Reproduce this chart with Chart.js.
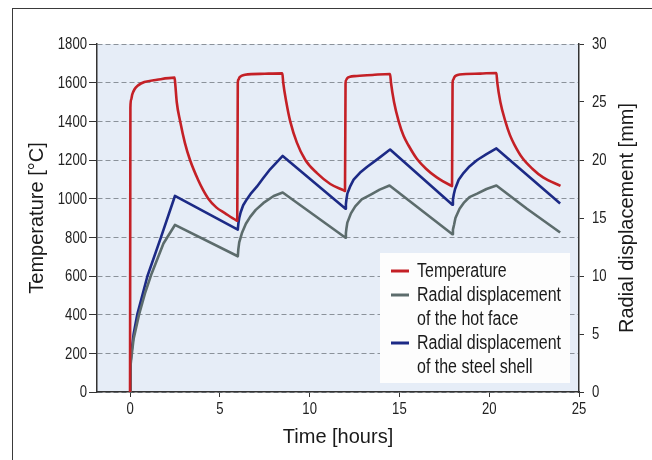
<!DOCTYPE html>
<html><head><meta charset="utf-8">
<script src="https://cdn.jsdelivr.net/npm/chart.js@4"></script>
<style>
html,body{margin:0;padding:0;background:#fff;}
#wrap{position:relative;width:652px;height:460px;overflow:hidden;background:#fff;}
#frame{position:absolute;left:12px;top:8px;width:700px;height:500px;border-left:1.5px solid #3a3a3a;border-top:1.5px solid #3a3a3a;}
canvas{position:absolute;left:0;top:0;}
</style></head><body>
<div id="wrap"><div id="frame"></div><canvas id="c" width="652" height="460"></canvas></div>
<script>
// ---- data (time in hours) ----
const tempTime = [0,0.02,0.06,0.12,0.25,0.45,0.8,1.5,2.48,
  2.52,2.6,2.79,3.05,3.34,3.8,4.05,4.36,4.8,5.3,5.9,5.97,
  6.0,6.03,6.1,6.2,6.4,7.5,8.48,
  8.53,8.7,8.92,9.29,9.76,10.41,11.15,11.9,11.97,
  12.0,12.03,12.1,12.25,12.5,13.5,14.48,
  14.53,14.7,14.96,15.23,15.51,15.98,16.48,17.08,17.86,17.93,
  17.96,17.99,18.06,18.15,18.35,19.5,20.4,
  20.45,20.62,20.9,21.15,21.4,21.85,22.4,23.0,23.97];
const tempValues = [0,1470,1512,1538,1566,1586,1603,1615,1626,
  1590,1500,1400,1290,1200,1095,1048,1000,955,924,889,886,
  1598,1615,1628,1635,1641,1646,1648,
  1600,1500,1400,1290,1200,1132,1076,1043,1040,
  1598,1613,1624,1630,1634,1640,1645,
  1600,1500,1400,1325,1275,1205,1155,1110,1068,1065,
  1598,1615,1628,1636,1642,1647,1650,
  1600,1500,1400,1330,1280,1210,1155,1110,1066];

const hotFaceTime = [0,0.02,0.05,0.1,0.2,0.5,0.85,1.2,1.86,2.5,
  6.0,6.03,6.08,6.23,6.45,6.69,7.0,7.43,8.0,8.5,
  12.0,12.02,12.05,12.1,12.3,12.54,12.9,13.38,13.9,14.45,
  17.95,17.98,18.04,18.12,18.35,18.58,18.9,19.33,19.85,20.4,22.1,23.95];
const hotFaceValues = [0,1.4,2.4,3.3,4.6,6.67,8.6,10.2,12.8,14.4,
  11.7,12.3,12.9,13.7,14.5,15.1,15.7,16.3,16.9,17.2,
  13.3,13.7,14.1,14.6,15.4,16.0,16.6,17.0,17.45,17.8,
  13.6,14.0,14.4,15.0,15.8,16.3,16.8,17.1,17.5,17.8,15.8,13.75];

const shellTime = [0,0.02,0.05,0.1,0.2,0.4,0.97,1.72,2.5,
  6.0,6.03,6.08,6.16,6.3,6.5,6.75,7.06,7.4,7.8,8.5,
  12.0,12.02,12.05,12.1,12.25,12.45,12.8,13.19,13.8,14.48,
  17.95,17.98,18.03,18.1,18.3,18.58,18.9,19.33,19.85,20.4,23.95];
const shellValues = [0,1.6,2.7,3.7,5.0,6.67,10.0,13.33,16.9,
  14.0,14.5,15.0,15.5,16.1,16.6,17.15,17.7,18.4,19.2,20.35,
  15.8,16.2,16.6,17.1,17.7,18.3,18.9,19.4,20.1,20.9,
  16.15,16.6,17.05,17.5,18.3,18.9,19.45,20.0,20.5,21.0,16.25];

const xTicks = [0,5,10,15,20,25];
const tempTicks = [0,200,400,600,800,1000,1200,1400,1600,1800];
const dispTicks = [0,5,10,15,20,25,30];

const seriesNames = ['Temperature', ['Radial displacement','of the hot face'], ['Radial displacement','of the steel shell']];
const seriesColors = ['#c42026', '#5c6c6c', '#1c2a86'];

const pts = (xs, ys) => xs.map((x, i) => ({x, y: ys[i]}));

const REG = '"Liberation Sans", Arial, sans-serif';
const NARROW_SCALE = 0.82;

const bgPlugin = {
  id: 'bg',
  beforeDraw(chart) {
    const {ctx, chartArea: a} = chart;
    ctx.save();
    ctx.fillStyle = '#e6edf7';
    ctx.fillRect(a.left, a.top, a.right - a.left, a.bottom - a.top);
    ctx.restore();
  }
};

function narrowText(ctx, text, x, y, align) {
  ctx.save();
  ctx.translate(x, y);
  ctx.scale(NARROW_SCALE, 1);
  ctx.textAlign = align;
  ctx.fillText(text, 0, 0);
  ctx.restore();
}

const legendPlugin = {
  id: 'boxLegend',
  afterDatasetsDraw(chart) {
    const {ctx, chartArea: a} = chart;
    const w = 190, h = 130;
    const bx = a.right - 9 - w, by = a.bottom - 9 - h;
    ctx.save();
    ctx.fillStyle = '#fdfdfd';
    ctx.fillRect(bx, by, w, h);
    ctx.font = '19.5px ' + REG;
    ctx.textBaseline = 'middle';
    let row = 0;
    seriesNames.forEach((name, i) => {
      const lines = Array.isArray(name) ? name : [name];
      const y0 = by + 18 + row * 24;
      ctx.strokeStyle = seriesColors[i];
      ctx.lineWidth = 3;
      ctx.beginPath();
      ctx.moveTo(bx + 11, y0);
      ctx.lineTo(bx + 29, y0);
      ctx.stroke();
      ctx.fillStyle = '#1a1a1a';
      lines.forEach((t, j) => narrowText(ctx, t, bx + 37, y0 + 1 + j * 24, 'left'));
      row += lines.length;
    });
    ctx.restore();
  }
};

const ticksPlugin = {
  id: 'narrowTicks',
  afterDraw(chart) {
    const ctx = chart.ctx;
    const {x: sx, y: sy, y2: sy2} = chart.scales;
    ctx.save();
    ctx.font = '16px ' + REG;
    ctx.fillStyle = '#222';
    ctx.textBaseline = 'middle';
    xTicks.forEach(v => narrowText(ctx, String(v), sx.getPixelForValue(v), sx.top + 18, 'center'));
    tempTicks.forEach(v => narrowText(ctx, String(v), sy.right - 10, sy.getPixelForValue(v) + 1, 'right'));
    dispTicks.forEach(v => narrowText(ctx, String(v), sy2.left + 13, sy2.getPixelForValue(v) + 1, 'left'));
    // right axis title, reading bottom-to-top
    ctx.translate(chart.width - 25, (chart.chartArea.top + chart.chartArea.bottom) / 2);
    ctx.rotate(-Math.PI / 2);
    ctx.font = '20px ' + REG;
    ctx.fillStyle = '#1a1a1a';
    ctx.textAlign = 'center';
    ctx.fillText('Radial displacement [mm]', 0, 0);
    ctx.restore();
  }
};

const lineDs = (label, data, color, axis, smooth) => ({
  label, data, yAxisID: axis,
  borderColor: color, backgroundColor: color,
  borderWidth: 2.6, pointRadius: 0, fill: false, tension: 0,
  cubicInterpolationMode: smooth ? 'monotone' : 'default',
  borderJoinStyle: 'round'
});

new Chart(document.getElementById('c'), {
  type: 'line',
  data: {
    datasets: [
      lineDs('Temperature', pts(tempTime, tempValues), seriesColors[0], 'y', true),
      lineDs('Radial displacement of the hot face', pts(hotFaceTime, hotFaceValues), seriesColors[1], 'y2', false),
      lineDs('Radial displacement of the steel shell', pts(shellTime, shellValues), seriesColors[2], 'y2', false)
    ]
  },
  options: {
    responsive: false,
    animation: false,
    devicePixelRatio: 1,
    layout: {padding: {top: 44, left: 0, right: 0, bottom: 0}},
    plugins: {legend: {display: false}, tooltip: {enabled: false}},
    scales: {
      x: {
        type: 'linear', min: -1.84, max: 25,
        afterBuildTicks: s => { s.ticks = xTicks.map(v => ({value: v})); },
        afterFit: s => { s.height = 68; },
        grid: {drawOnChartArea: false, drawTicks: true, tickLength: 5, tickColor: '#333', tickWidth: 1},
        border: {color: '#333', width: 1.5},
        ticks: {display: false},
        title: {display: true, text: 'Time [hours]', font: {family: REG, size: 20}, color: '#1a1a1a', padding: {top: 0, bottom: 11}}
      },
      y: {
        position: 'left', min: 0, max: 1800,
        afterBuildTicks: s => { s.ticks = tempTicks.map(v => ({value: v})); },
        afterFit: s => { s.width = 97; },
        grid: {color: '#8b929a', lineWidth: 1, tickLength: 8, tickColor: '#333', tickWidth: 1, tickBorderDash: []},
        border: {color: '#333', width: 1.5, dash: [5, 3]},
        ticks: {display: false},
        title: {display: true, text: 'Temperature [°C]', font: {family: REG, size: 20}, color: '#1a1a1a', padding: {top: 25, bottom: 0}}
      },
      y2: {
        position: 'right', min: 0, max: 30,
        afterBuildTicks: s => { s.ticks = dispTicks.map(v => ({value: v})); },
        afterFit: s => { s.width = 73; },
        grid: {drawOnChartArea: false, tickLength: 5, tickColor: '#333', tickWidth: 1},
        border: {color: '#333', width: 1.5},
        ticks: {display: false},
        title: {display: false}
      }
    }
  },
  plugins: [bgPlugin, legendPlugin, ticksPlugin]
});
</script>
</body></html>
